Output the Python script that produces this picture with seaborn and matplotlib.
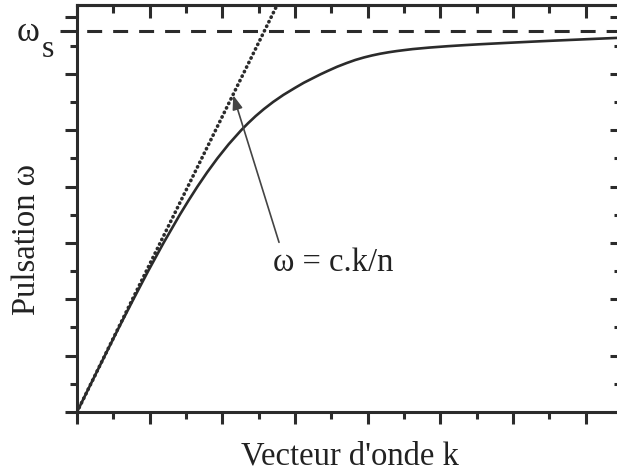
import numpy as np
import matplotlib
matplotlib.use('Agg')
import matplotlib.pyplot as plt
from matplotlib.ticker import MultipleLocator, NullFormatter
import seaborn as sns

sns.set_style(style='white')
plt.rcParams['font.family'] = ['Liberation Serif', 'DejaVu Serif']

# surface plasmon dispersion curve (k, omega)
k_sp = [0, 0.191, 0.383, 0.577, 0.776, 0.979, 1.191, 1.415, 1.534, 1.658,
        1.790, 1.932, 2.087, 2.260, 2.356, 2.459, 2.573, 2.699, 2.840, 3.00,
        3.12, 3.25, 3.35, 3.45, 3.58, 3.71, 3.83, 3.95, 4.06, 4.17, 4.29,
        4.40, 4.51, 4.62, 4.85, 5.10, 5.32, 5.55, 5.90, 6.25, 6.55, 6.85,
        7.17, 7.50]
w_sp = [0, 0.5, 1.0, 1.5, 2.0, 2.5, 3.0, 3.5, 3.75, 4.0,
        4.25, 4.5, 4.75, 5.0, 5.125, 5.25, 5.375, 5.5, 5.625, 5.75,
        5.84, 5.925, 5.99, 6.05, 6.125, 6.19, 6.245, 6.29, 6.325, 6.355, 6.382,
        6.403, 6.421, 6.438, 6.465, 6.489, 6.507, 6.524, 6.547, 6.569, 6.587, 6.604,
        6.622, 6.64]

# light line omega = c.k/n
k_light = [0, 2.8]
w_light = [0, 7.34]

w_s = 6.76          # asymptote
x_max, y_max = 7.5, 7.22

# arrow: from label to light line
arrow_tail = (2.78, 3.01)
arrow_head = (2.15, 5.62)
label_pos = (2.70, 2.50)

ink = '#2b2b2b'
txt = '#222222'

fig = plt.figure(figsize=(6.17, 4.72), dpi=100)
ax = fig.add_axes([0.1248, 0.1271, 0.8833, 0.8623])

sns.lineplot(x=k_light, y=w_light, ax=ax, color=ink, lw=2.6,
             linestyle=(0, (0.1, 1.3)), dash_capstyle='round')
sns.lineplot(x=k_sp, y=w_sp, ax=ax, color=ink, lw=1.9)
ax.axhline(w_s, color=ink, lw=2.2, linestyle=(5.33, (4.9, 3.6)))

ax.set_xlim(0, x_max)
ax.set_ylim(0, y_max)

for sp in ax.spines.values():
    sp.set_visible(True)
    sp.set_linewidth(2.2)
    sp.set_color(ink)

ax.xaxis.set_major_locator(MultipleLocator(1))
ax.xaxis.set_minor_locator(MultipleLocator(0.5))
ax.yaxis.set_major_locator(MultipleLocator(1))
ax.yaxis.set_minor_locator(MultipleLocator(0.5))
ax.xaxis.set_major_formatter(NullFormatter())
ax.yaxis.set_major_formatter(NullFormatter())
ax.tick_params(which='both', direction='out', width=2.2, color=ink,
               bottom=True, left=True, top=False, right=False)
ax.tick_params(which='major', length=8.6)
ax.tick_params(which='minor', length=5)

# inward ticks on top and right
top = ax.secondary_xaxis('top')
top.xaxis.set_major_locator(MultipleLocator(1))
top.xaxis.set_minor_locator(MultipleLocator(0.5))
right = ax.secondary_yaxis('right')
right.yaxis.set_major_locator(MultipleLocator(1))
right.yaxis.set_minor_locator(MultipleLocator(0.5))
for sec in (top, right):
    sec.tick_params(which='both', direction='in', width=2.2, color=ink,
                    labeltop=False, labelright=False, labelbottom=False, labelleft=False)
    sec.tick_params(which='major', length=9)
    sec.tick_params(which='minor', length=5.5)
    for sp in sec.spines.values():
        sp.set_linewidth(2.2)
        sp.set_color(ink)

# longer tick for omega_s and its label
ax.plot([-0.031, 0], [w_s, w_s], transform=ax.get_yaxis_transform(),
        clip_on=False, color=ink, lw=2.2, solid_capstyle='butt')
ax.annotate('ω', xy=(0, w_s), xycoords=('axes fraction', 'data'),
            xytext=(-27.3, -0.8), textcoords='offset points',
            ha='right', va='center', fontsize=25, color=txt)
ax.annotate('s', xy=(0, w_s), xycoords=('axes fraction', 'data'),
            xytext=(-25.6, -13.5), textcoords='offset points',
            ha='left', va='center', fontsize=23, color=txt)

ax.set_xlabel("Vecteur d'onde k", fontsize=23.5, color=txt)
ax.set_ylabel('Pulsation ω', fontsize=23.5, color=txt)
ax.xaxis.set_label_coords(0.501, -0.071)
ax.yaxis.set_label_coords(-0.065, 0.423)

ax.annotate('', xy=arrow_head, xytext=arrow_tail,
            arrowprops=dict(arrowstyle='-|>,head_length=0.5,head_width=0.18',
                            color='#444444', lw=1.2, mutation_scale=17,
                            shrinkA=0, shrinkB=0))
ax.text(label_pos[0], label_pos[1], 'ω = c.k/n', fontsize=23.5,
        ha='left', va='baseline', color=txt)

fig.savefig('out.png', dpi=100)
